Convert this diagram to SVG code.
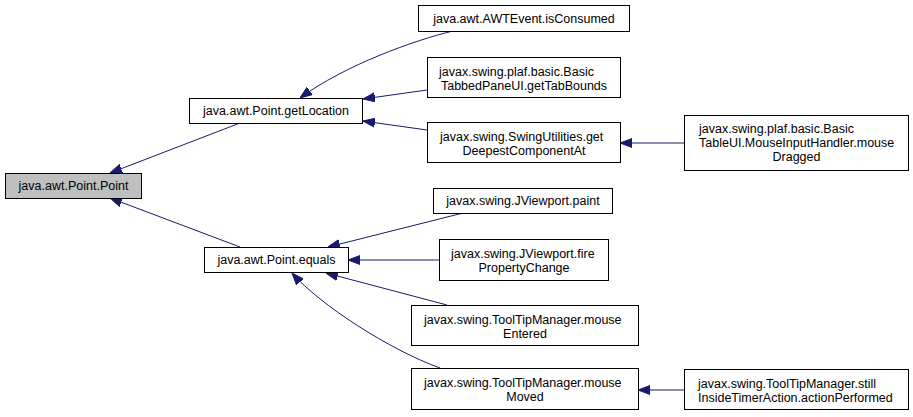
<svg xmlns="http://www.w3.org/2000/svg" width="913" height="417" viewBox="0 0 913 417">
<style>
.bg{fill:#ffffff}
.node rect{fill:#ffffff;stroke:#000000;stroke-width:1}
.node.cur rect{fill:#bfbfbf}
.node text{font-family:"Liberation Sans",Arial,sans-serif;font-size:12.5px;fill:#000000}
.c{text-anchor:middle}
.edge{fill:none;stroke:#191970;stroke-width:1}
</style>
<defs>
<marker id="ah" viewBox="0 0 12 10" refX="12" refY="5" markerWidth="12" markerHeight="10" markerUnits="userSpaceOnUse" orient="auto">
<path d="M0,0.5 L12,5 L0,9.5 z" fill="#191970" stroke="#191970" stroke-width="1"/>
</marker>
</defs>
<rect class="bg" x="0" y="0" width="913" height="417"/>
<g id="connectors">
<path class="edge" marker-end="url(#ah)" d="M240,123 L110,173"/>
<path class="edge" marker-end="url(#ah)" d="M240,247 L110,198"/>
<path class="edge" marker-end="url(#ah)" d="M453,31 C415,40 345,65 300,98"/>
<path class="edge" marker-end="url(#ah)" d="M427,90 L363,99"/>
<path class="edge" marker-end="url(#ah)" d="M427,130 L363,121"/>
<path class="edge" marker-end="url(#ah)" d="M684,143 L620,143"/>
<path class="edge" marker-end="url(#ah)" d="M463,213 L328,247"/>
<path class="edge" marker-end="url(#ah)" d="M439,260 L348,260"/>
<path class="edge" marker-end="url(#ah)" d="M447,305 L326,273"/>
<path class="edge" marker-end="url(#ah)" d="M440,368 C390,350 320,305 292,273"/>
<path class="edge" marker-end="url(#ah)" d="M684,390 L638,390"/>
</g>
<g id="n_point" class="node cur">
<rect x="5.5" y="173.5" width="136" height="25"/>
<text class="c" x="73.5" y="190">java.awt.Point.Point</text>
</g>
<g id="n_getLocation" class="node">
<rect x="189.5" y="98.5" width="173" height="25"/>
<text class="c" x="276" y="115">java.awt.Point.getLocation</text>
</g>
<g id="n_equals" class="node">
<rect x="204.5" y="247.5" width="144" height="25"/>
<text class="c" x="276.5" y="264">java.awt.Point.equals</text>
</g>
<g id="n_isConsumed" class="node">
<rect x="418.5" y="5.5" width="211" height="26"/>
<text class="c" x="524" y="22.5">java.awt.AWTEvent.isConsumed</text>
</g>
<g id="n_tabBounds" class="node">
<rect x="427.5" y="57.5" width="193" height="40"/>
<text x="439" y="75.5">javax.swing.plaf.basic.Basic</text>
<text class="c" x="524" y="89.5">TabbedPaneUI.getTabBounds</text>
</g>
<g id="n_deepest" class="node">
<rect x="427.5" y="122.5" width="193" height="40"/>
<text x="440" y="140.5">javax.swing.SwingUtilities.get</text>
<text class="c" x="524" y="154.5">DeepestComponentAt</text>
</g>
<g id="n_mouseDragged" class="node">
<rect x="684.5" y="115.5" width="224" height="55"/>
<text x="699" y="132.5">javax.swing.plaf.basic.Basic</text>
<text x="699" y="146.5">TableUI.MouseInputHandler.mouse</text>
<text class="c" x="796.5" y="160.5">Dragged</text>
</g>
<g id="n_paint" class="node">
<rect x="433.5" y="188.5" width="179" height="25"/>
<text class="c" x="523" y="205">javax.swing.JViewport.paint</text>
</g>
<g id="n_fire" class="node">
<rect x="439.5" y="239.5" width="169" height="41"/>
<text x="451" y="257.5">javax.swing.JViewport.fire</text>
<text class="c" x="524" y="271.5">PropertyChange</text>
</g>
<g id="n_entered" class="node">
<rect x="411.5" y="305.5" width="227" height="40"/>
<text x="424" y="323.5">javax.swing.ToolTipManager.mouse</text>
<text class="c" x="525" y="337.5">Entered</text>
</g>
<g id="n_moved" class="node">
<rect x="411.5" y="368.5" width="227" height="41"/>
<text x="424" y="386.5">javax.swing.ToolTipManager.mouse</text>
<text class="c" x="525" y="400.5">Moved</text>
</g>
<g id="n_stillInside" class="node">
<rect x="684.5" y="369.5" width="224" height="40"/>
<text x="698" y="387.5">javax.swing.ToolTipManager.still</text>
<text x="698" y="401.5">InsideTimerAction.actionPerformed</text>
</g>
</svg>
